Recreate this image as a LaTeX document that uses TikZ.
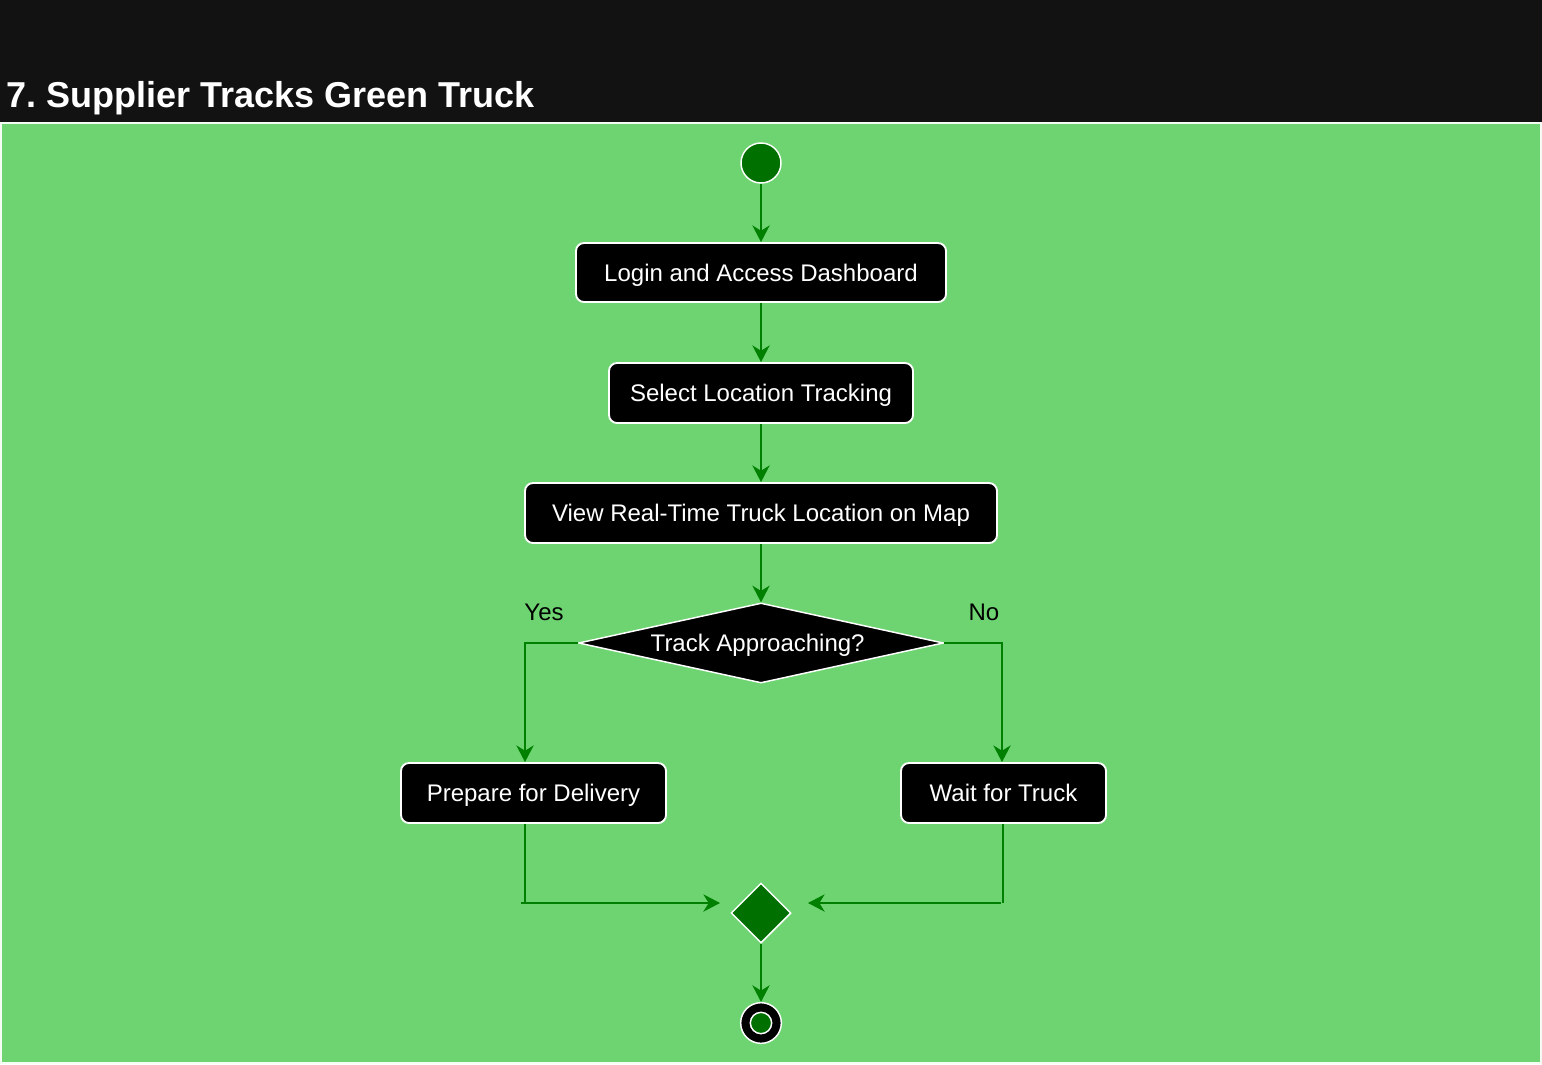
\documentclass[tikz,border=0pt]{standalone}
\usepackage{fontspec}
\setmainfont{Liberation Sans}
\usetikzlibrary{shapes.geometric,arrows.meta}
\definecolor{bgdark}{HTML}{121212}
\definecolor{panel}{RGB}{110,212,114}
\definecolor{edgegreen}{RGB}{0,128,0}
\definecolor{darkfill}{RGB}{0,112,0}
\frenchspacing
\tikzset{
  px/.style={x=0.75pt,y=-0.75pt},
  actbox/.style={draw=white,line width=1.4pt,fill=black,rounded corners=6pt,text=white,font=\fontsize{18pt}{21pt}\selectfont,inner sep=0pt,minimum height=45pt,text height=13pt,text depth=0pt},
  flow/.style={draw=edgegreen,line width=1.2pt,-{Stealth[length=12.5pt,width=13pt,inset=4pt]}},
  plain/.style={draw=edgegreen,line width=1.2pt},
  lbl/.style={text=black,font=\fontsize{18pt}{21pt}\selectfont,inner sep=0pt},
}
\begin{document}
\begin{tikzpicture}[px]
\useasboundingbox (0,0) rectangle (1542,1064);
\fill[bgdark] (0,0) rectangle (1542,1064);
\fill[white!92!panel] (0,122) rectangle (1542,1064);
\fill[panel] (2,124) rectangle (1540,1062);
\node[anchor=base west,text=white,font=\bfseries\fontsize{27pt}{32pt}\selectfont,inner sep=0pt] (title) at (6,107) {7. Supplier Tracks Green Truck};

\node[circle,draw=white,line width=1.1pt,fill=darkfill,minimum size=30pt,inner sep=0pt] (start) at (761,163) {};
\node[actbox,minimum width=277.5pt,minimum height=44.25pt] (login) at (761,272.5) {Login and Access Dashboard};
\node[actbox,minimum width=228pt] (select) at (761,393) {Select Location Tracking};
\node[actbox,minimum width=354pt] (view) at (761,513) {View Real-Time Truck Location on Map};
\node[diamond,draw=white,line width=1.1pt,fill=black,text=white,minimum width=273.75pt,minimum height=60pt,shape aspect=4.56,inner sep=0pt,font=\fontsize{18pt}{21pt}\selectfont,text height=13pt,text depth=0pt] (dec) at (761,643) {Track Approaching?\hspace*{5pt}};
\node[actbox,minimum width=198.75pt] (prep) at (533.5,793) {Prepare for Delivery};
\node[actbox,minimum width=153.75pt] (wait) at (1003.5,793) {Wait for Truck};
\node[diamond,draw=white,line width=1.1pt,fill=darkfill,minimum width=45pt,minimum height=45pt,inner sep=0pt] (merge) at (761,913) {};
\node[circle,draw=white,line width=1.1pt,fill=black,minimum size=30.5pt,inner sep=0pt] (end) at (761,1023) {};
\node[circle,draw=white,line width=1.1pt,fill=darkfill,minimum size=16pt,inner sep=0pt] (endin) at (end.center) {};

\node[lbl] (yes) at (544,612) {Yes};
\node[lbl] (no) at (984,612) {No};

\coordinate (yc) at (525,643);
\coordinate (nc) at (1002,643);
\coordinate (pc) at (525,903);
\coordinate (ps) at (521,903);
\coordinate (pt) at (720,903);
\coordinate (wc) at (1003,903);
\coordinate (ws) at (1001,903);
\coordinate (wt) at (808,903);

\draw[flow] (start) -- (login);
\draw[flow] (login) -- (select);
\draw[flow] (select) -- (view);
\draw[flow] (view) -- (dec);
\draw[flow] (dec.west) -- (yc) -- (yc |- prep.north);
\draw[flow] (dec.east) -- (nc) -- (nc |- wait.north);
\draw[plain] (prep.south -| pc) -- (pc);
\draw[flow] (ps) -- (pt);
\draw[plain] (wait.south -| wc) -- (wc);
\draw[flow] (ws) -- (wt);
\draw[flow] (merge) -- (end);
\end{tikzpicture}
\end{document}
